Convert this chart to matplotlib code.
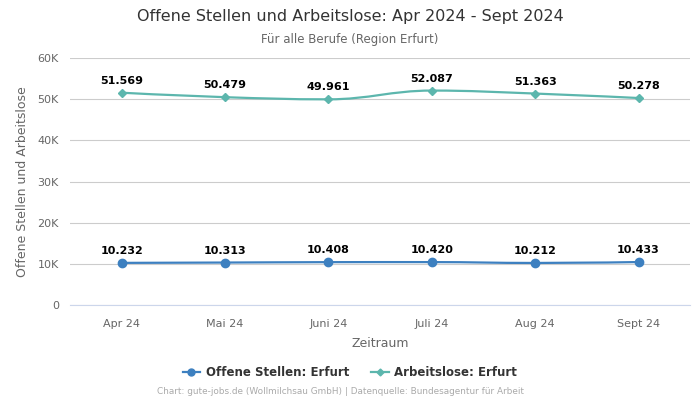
import matplotlib.pyplot as plt
from matplotlib.path import Path
from matplotlib.patches import PathPatch
from matplotlib.ticker import FuncFormatter
from matplotlib.lines import Line2D
import numpy as np

# Daten
monate = ["Apr 24", "Mai 24", "Juni 24", "Juli 24", "Aug 24", "Sept 24"]
offene_stellen = [10232, 10313, 10408, 10420, 10212, 10433]
arbeitslose = [51569, 50479, 49961, 52087, 51363, 50278]

blau = "#3d80c0"
tuerkis = "#5cb6ad"


def spline_pfad(xs, ys, smoothing=1.5):
    # Highcharts-artige Spline-Kontrollpunkte
    n = len(xs)
    verts = [(xs[0], ys[0])]
    codes = [Path.MOVETO]
    conts = []
    denom = smoothing + 1
    for i in range(n):
        if i == 0 or i == n - 1:
            conts.append(((xs[i], ys[i]), (xs[i], ys[i])))
            continue
        px, py = xs[i - 1], ys[i - 1]
        nx, ny = xs[i + 1], ys[i + 1]
        x, y = xs[i], ys[i]
        lcx = (smoothing * x + px) / denom
        lcy = (smoothing * y + py) / denom
        rcx = (smoothing * x + nx) / denom
        rcy = (smoothing * y + ny) / denom
        if rcx != lcx:
            corr = ((rcy - lcy) * (rcx - x)) / (rcx - lcx) + y - rcy
            lcy += corr
            rcy += corr
        if lcy > max(py, y) or lcy < min(py, y) or rcy > max(ny, y) or rcy < min(ny, y):
            if (py - y) * (ny - y) > 0:
                lcy = y
                rcy = y
        conts.append(((lcx, lcy), (rcx, rcy)))
    for i in range(1, n):
        verts += [conts[i - 1][1], conts[i][0], (xs[i], ys[i])]
        codes += [Path.CURVE4] * 3
    return Path(verts, codes)


fig = plt.figure(figsize=(7, 4), dpi=100)
ax = fig.add_axes([0.1, 0.2375, 0.886, 0.6175])

x = np.arange(len(monate))
for werte, farbe, marker, ms in [(offene_stellen, blau, "o", 6), (arbeitslose, tuerkis, "D", 4)]:
    pfad = spline_pfad(list(x), list(werte))
    ax.add_patch(PathPatch(pfad, fill=False, edgecolor=farbe, lw=1.6, zorder=3))
    ax.plot(x, werte, linestyle="none", marker=marker, color=farbe, markersize=ms, zorder=4)
    for xi, w in zip(x, werte):
        ax.annotate(f"{w:,}".replace(",", "."), (xi, w), xytext=(0, 5), textcoords="offset points",
                    ha="center", va="bottom", fontsize=8, fontweight="bold", color="black")

ax.set_xlim(-0.5, len(monate) - 0.5)
ax.set_ylim(0, 60000)
ax.set_yticks(range(0, 60001, 10000))
ax.yaxis.set_major_formatter(FuncFormatter(lambda v, p: "0" if v == 0 else f"{int(v / 1000)}K"))
ax.set_xticks(x)
ax.set_xticklabels(monate)
ax.grid(axis="y", color="#cccccc", lw=0.8)
ax.set_axisbelow(True)
for s in ["top", "right", "left"]:
    ax.spines[s].set_visible(False)
ax.spines["bottom"].set_color("#ccd6eb")
ax.tick_params(axis="both", length=0, labelsize=8, colors="#666666", pad=8)
ax.tick_params(axis="x", pad=10)
ax.set_xlabel("Zeitraum", fontsize=9, color="#666666", labelpad=6)
ax.set_ylabel("Offene Stellen und Arbeitslose", fontsize=9, color="#666666", labelpad=6)

fig.text(0.5, 0.958, "Offene Stellen und Arbeitslose: Apr 2024 - Sept 2024", ha="center", va="center",
         fontsize=11.5, color="#333333")
fig.text(0.5, 0.902, "Für alle Berufe (Region Erfurt)", ha="center", va="center", fontsize=8.5, color="#666666")

handles = [Line2D([], [], color=blau, marker="o", markersize=5, lw=1.6),
           Line2D([], [], color=tuerkis, marker="D", markersize=3.5, lw=1.6)]
fig.legend(handles, ["Offene Stellen: Erfurt", "Arbeitslose: Erfurt"], loc="center", bbox_to_anchor=(0.5, 0.0675),
           ncol=2, frameon=False, prop={"size": 8.5, "weight": "bold"}, labelcolor="#333333",
           handlelength=1.5, columnspacing=1.8, handletextpad=0.5)
fig.text(0.486, 0.02, "Chart: gute-jobs.de (Wollmilchsau GmbH) | Datenquelle: Bundesagentur für Arbeit",
         ha="center", va="center", fontsize=6.4, color="#aaaaaa")

fig.savefig("out.png", dpi=100)
